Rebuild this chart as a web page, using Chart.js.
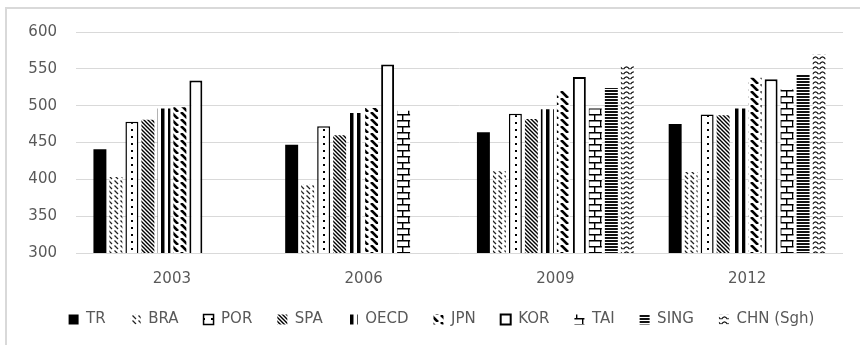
<!DOCTYPE html>
<html>
<head>
<meta charset="utf-8">
<script src="https://cdn.jsdelivr.net/npm/chart.js@4.4.0/dist/chart.umd.min.js"></script>
<style>
    html, body { margin: 0; padding: 0; background: #fff; }
    #wrap { position: relative; width: 860px; height: 345px; overflow: hidden; }
    #frame { position: absolute; left: 5px; top: 7px; width: 900px; height: 400px;
             border-left: 2px solid #d9d9d9; border-top: 2px solid #d9d9d9; }
    canvas { position: absolute; left: 0; top: 0; }
</style>
</head>
<body>
<div id="wrap">
    <div id="frame"></div>
    <canvas id="myChart" width="860" height="345"></canvas>
</div>
<script>
var years = ["2003", "2006", "2009", "2012"];
var seriesNames = ["TR", "BRA", "POR", "SPA", "OECD", "JPN", "KOR", "TAI", "SING", "CHN (Sgh)"];

var TR = [441, 447, 464, 475];
var BRA = [403, 393, 411, 410];
var POR = [478, 472, 489, 488];
var SPA = [481, 460, 482, 487];
var OECD = [496, 490, 495, 496];
var JPN = [498, 497, 520, 538];
var KOR = [534, 556, 539, 536];
var TAI = [null, 493, 496, 522];
var SING = [null, null, 524, 542];
var CHN = [null, null, 555, 570];

var yTicks = [300, 350, 400, 450, 500, 550, 600];

document.addEventListener("DOMContentLoaded", function () {
    var ctx = document.getElementById("myChart").getContext("2d");

    // small tiles turned into fill patterns (black & white print style)
    function makePattern(w, h, draw) {
        var c = document.createElement("canvas");
        c.width = w;
        c.height = h;
        var g = c.getContext("2d");
        g.fillStyle = "#fff";
        g.fillRect(0, 0, w, h);
        g.fillStyle = "#000";
        g.strokeStyle = "#000";
        draw(g, w, h);
        return ctx.createPattern(c, "repeat");
    }

    var patBRA = makePattern(6, 5, function (g) {
        g.strokeStyle = "#222";
        g.lineWidth = 1.3;
        g.beginPath();
        g.moveTo(0.5, 0.5);
        g.lineTo(4, 4);
        g.stroke();
    });
    var patPOR = makePattern(8, 7, function (g) {
        g.fillRect(3, 3, 2, 2);
    });
    var patSPA = makePattern(4, 4, function (g) {
        g.lineWidth = 1.4;
        g.beginPath();
        for (var o = -4; o <= 4; o += 4) {
            g.moveTo(o - 1, -1);
            g.lineTo(o + 5, 5);
        }
        g.stroke();
    });
    var patOECD = makePattern(7, 1, function (g) {
        g.fillRect(0, 0, 3.5, 1);
    });
    var patJPN = makePattern(10, 7, function (g) {
        g.lineWidth = 2.6;
        g.beginPath();
        g.moveTo(1, 0);
        g.lineTo(8, 7);
        g.stroke();
    });
    var patTAI = makePattern(12, 12, function (g) {
        g.lineWidth = 1.4;
        g.beginPath();
        g.moveTo(0, 0.7); g.lineTo(12, 0.7);
        g.moveTo(0, 6.7); g.lineTo(12, 6.7);
        g.moveTo(0.7, 0); g.lineTo(0.7, 6.7);
        g.moveTo(6.7, 6.7); g.lineTo(6.7, 12);
        g.stroke();
    });
    var patSING = makePattern(1, 3, function (g) {
        g.fillStyle = "#111";
        g.fillRect(0, 0, 1, 2);
    });
    var patCHN = makePattern(7, 5, function (g) {
        g.strokeStyle = "#111";
        g.lineWidth = 1.3;
        g.beginPath();
        g.moveTo(0.5, 4.2);
        g.quadraticCurveTo(3.5, -0.5, 6.5, 4.2);
        g.stroke();
    });

    var values = [TR, BRA, POR, SPA, OECD, JPN, KOR, TAI, SING, CHN];
    var fills = ["#000", patBRA, patPOR, patSPA, patOECD, patJPN, "#fff", patTAI, patSING, patCHN];
    var borders = [0, 0, 1.5, 0, 0, 0, 2, 0, 0, 0];

    var datasets = seriesNames.map(function (name, i) {
        return {
            label: name,
            data: values[i],
            backgroundColor: fills[i],
            borderColor: "#000",
            borderWidth: borders[i],
            borderSkipped: borders[i] ? false : "start",
            barPercentage: 0.81,
            categoryPercentage: 0.834,
        };
    });

    var textFont = { family: "'DejaVu Sans', sans-serif", size: 15 };

    // lower the legend a little and nudge it right, like the original
    var legendShift = {
        id: "legendShift",
        beforeInit: function (chart) {
            if (!chart.legend) return;
            var fit = chart.legend.fit;
            chart.legend.fit = function () {
                fit.call(this);
                this.height += 8;
            };
        },
        afterLayout: function (chart) {
            if (!chart.legend) return;
            chart.legend.left += 20;
            chart.legend.right += 20;
        },
    };

    // eslint-disable-next-line no-undef,no-new
    new Chart(ctx, {
        type: "bar",
        data: { labels: years, datasets: datasets },
        plugins: [legendShift],
        options: {
            responsive: false,
            animation: false,
            devicePixelRatio: 1,
            layout: { padding: { top: 32, right: 17, left: 0, bottom: 0 } },
            plugins: {
                tooltip: { enabled: false },
                legend: {
                    display: true,
                    position: "bottom",
                    labels: {
                        boxWidth: 10,
                        boxHeight: 10,
                        padding: 25,
                        color: "#595959",
                        font: textFont,
                    },
                },
            },
            scales: {
                x: {
                    grid: { display: false },
                    border: { display: false },
                    ticks: { color: "#595959", font: textFont, padding: 9 },
                    afterFit: function (scale) { scale.height = 34; },
                },
                y: {
                    min: 300,
                    max: 600,
                    afterBuildTicks: function (scale) {
                        scale.ticks = yTicks.map(function (v) { return { value: v }; });
                    },
                    grid: { color: "#d9d9d9", lineWidth: 1, drawTicks: false },
                    border: { display: false },
                    ticks: { color: "#595959", font: textFont, padding: 19 },
                    afterFit: function (scale) { scale.width = 76; },
                },
            },
        },
    });
});
</script>
</body>
</html>
